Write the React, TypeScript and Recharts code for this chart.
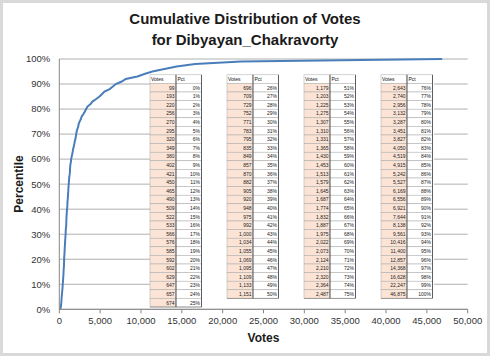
import React from 'react';
import { LineChart, Line, XAxis, YAxis, CartesianGrid } from 'recharts';

const pctValues = [
  0, 1, 2, 3, 4, 5, 6, 7, 8, 9, 10, 11, 12, 13, 14, 15, 16, 17, 18, 19, 20, 21, 22, 23, 24, 25,
  26, 27, 28, 29, 30, 31, 32, 33, 34, 35, 36, 37, 38, 39, 40, 41, 42, 43, 44, 45, 46, 47, 48, 49, 50,
  51, 52, 53, 54, 55, 56, 57, 58, 59, 60, 61, 62, 63, 64, 65, 66, 67, 68, 69, 70, 71, 72, 73, 74, 75,
  76, 77, 78, 79, 80, 81, 82, 83, 84, 85, 86, 87, 88, 89, 90, 91, 92, 93, 94, 95, 96, 97, 98, 99, 100,
];

const voteValues = [
  99, 193, 220, 256, 270, 295, 320, 349, 380, 402, 421, 450, 465, 490, 509, 522, 533, 566, 576, 585, 592, 602, 629, 647, 657, 674,
  696, 709, 729, 752, 771, 783, 795, 835, 849, 857, 870, 882, 905, 920, 948, 975, 992, 1000, 1034, 1055, 1069, 1095, 1109, 1133, 1151,
  1179, 1203, 1225, 1275, 1307, 1310, 1331, 1365, 1430, 1453, 1513, 1579, 1645, 1687, 1774, 1832, 1887, 1975, 2022, 2073, 2124, 2210, 2320, 2364, 2487,
  2643, 2740, 2956, 3132, 3287, 3451, 3827, 4050, 4519, 4915, 5242, 5527, 6169, 6556, 6921, 7644, 8138, 9561, 10416, 11400, 12857, 14368, 16628, 22247, 46875,
];

const xTicks = [0, 5000, 10000, 15000, 20000, 25000, 30000, 35000, 40000, 45000, 50000];
const yTicks = [0, 10, 20, 30, 40, 50, 60, 70, 80, 90, 100];
const titleLines = ['Cumulative Distribution of Votes', 'for Dibyayan_Chakravorty'];
const xTitle = 'Votes';
const yTitle = 'Percentile';
const tableHeaders = ['Votes', 'Pct'];
// start/end indexes (into the arrays above) of the four side tables
const tableRanges = [
  [0, 26],
  [26, 51],
  [51, 76],
  [76, 101],
];

const data = voteValues.map((v, i) => ({ votes: v, pct: pctValues[i] }));

const FONT = '"Liberation Sans", Arial, sans-serif';
const W = 490;
const H = 356;

const TBL_X = [150, 227, 304, 381];
const COL1 = 26;
const COL2 = 25.5;
const HEAD_Y = 74.8;
const ROW_H = 8.6;

function Tables() {
  return (
    <g>
      <rect x={150} y={74} width={284} height={234} fill="#ffffff" />
      {tableRanges.map(([s, e], ti) => {
        const x0 = TBL_X[ti];
        const rows = [];
        for (let i = s; i < e; i++) {
          const r = i - s;
          const y = HEAD_Y + ROW_H * (r + 1);
          rows.push(
            <g key={i}>
              <rect x={x0} y={y} width={COL1} height={ROW_H} fill="#FBE4D5" stroke="#a8a8a8" strokeWidth={0.5} />
              <rect x={x0 + COL1} y={y} width={COL2} height={ROW_H} fill="#ffffff" stroke="#a8a8a8" strokeWidth={0.5} />
              <text x={x0 + COL1 - 1.5} y={y + ROW_H / 2 + 1.8} fontSize={5} textAnchor="end" fill="#222" fontFamily={FONT}>
                {voteValues[i].toLocaleString('en-US')}
              </text>
              <text x={x0 + COL1 + COL2 - 1.5} y={y + ROW_H / 2 + 1.8} fontSize={5} textAnchor="end" fill="#222" fontFamily={FONT}>
                {pctValues[i] + '%'}
              </text>
            </g>
          );
        }
        const bottom = HEAD_Y + ROW_H * (e - s + 1);
        return (
          <g key={ti}>
            <rect x={x0} y={HEAD_Y} width={COL1} height={ROW_H} fill="#ffffff" stroke="#a8a8a8" strokeWidth={0.5} />
            <rect x={x0 + COL1} y={HEAD_Y} width={COL2} height={ROW_H} fill="#ffffff" stroke="#a8a8a8" strokeWidth={0.5} />
            <text x={x0 + 1} y={HEAD_Y + ROW_H / 2 + 1.8} fontSize={5} fill="#111" fontFamily={FONT}>
              {tableHeaders[0]}
            </text>
            <text x={x0 + COL1 + 1.5} y={HEAD_Y + ROW_H / 2 + 1.8} fontSize={5} fill="#111" fontFamily={FONT}>
              {tableHeaders[1]}
            </text>
            {rows}
            <line x1={x0 + COL1} x2={x0 + COL1} y1={HEAD_Y} y2={bottom} stroke="#404040" strokeWidth={0.8} />
            <line x1={x0 + COL1 + COL2} x2={x0 + COL1 + COL2} y1={HEAD_Y} y2={bottom} stroke="#404040" strokeWidth={0.8} />
            <line x1={x0} x2={x0 + COL1 + COL2} y1={bottom} y2={bottom} stroke="#707070" strokeWidth={0.6} />
          </g>
        );
      })}
    </g>
  );
}

export default function App() {
  return (
    <div style={{ position: 'relative', width: W, height: H, background: '#fff' }}>
      <style>{`body{margin:0;}`}</style>
      <div
        style={{
          position: 'absolute',
          left: 0,
          top: 0,
          width: W,
          height: H,
          boxSizing: 'border-box',
          border: '3px solid #d9d9d9',
        }}
      />
      <div style={{ position: 'absolute', left: 0, top: 0 }}>
        <LineChart width={W} height={H} data={data} margin={{ top: 59, right: 22.3, left: 0, bottom: 0 }}>
          <CartesianGrid vertical={false} stroke="#b0b0b0" strokeWidth={1} />
          <XAxis
            type="number"
            dataKey="votes"
            domain={[0, 50000]}
            ticks={xTicks}
            height={46.7}
            allowDataOverflow
            tickFormatter={(v: number) => v.toLocaleString('en-US')}
            tick={{ fontSize: 9.5, fill: '#333', fontFamily: FONT }}
            tickSize={4}
            tickMargin={4}
            axisLine={{ stroke: '#868686' }}
            tickLine={{ stroke: '#868686' }}
            interval={0}
          />
          <YAxis
            type="number"
            dataKey="pct"
            domain={[0, 100]}
            ticks={yTicks}
            width={59.3}
            tickFormatter={(v: number) => v + '%'}
            tick={{ fontSize: 9.5, fill: '#333', fontFamily: FONT }}
            tickLine={false}
            tickMargin={3}
            axisLine={{ stroke: '#868686' }}
            interval={0}
          />
          <Line
            type="linear"
            dataKey="pct"
            stroke="#4A7EBB"
            strokeWidth={2}
            dot={false}
            isAnimationActive={false}
          />
        </LineChart>
      </div>
      <svg width={W} height={H} style={{ position: 'absolute', left: 0, top: 0, pointerEvents: 'none' }}>
        <Tables />
        <text x={245} y={24} textAnchor="middle" fontSize={15} fontWeight="bold" fill="#1a1a1a" fontFamily={FONT}>
          {titleLines[0]}
        </text>
        <text x={245} y={44.5} textAnchor="middle" fontSize={15} fontWeight="bold" fill="#1a1a1a" fontFamily={FONT}>
          {titleLines[1]}
        </text>
        <text x={263.5} y={342.3} textAnchor="middle" fontSize={12} fontWeight="bold" fill="#1a1a1a" fontFamily={FONT}>
          {xTitle}
        </text>
        <text
          x={23}
          y={184}
          textAnchor="middle"
          fontSize={12}
          fontWeight="bold"
          fill="#1a1a1a"
          fontFamily={FONT}
          transform="rotate(-90 23 184)"
        >
          {yTitle}
        </text>
      </svg>
    </div>
  );
}
